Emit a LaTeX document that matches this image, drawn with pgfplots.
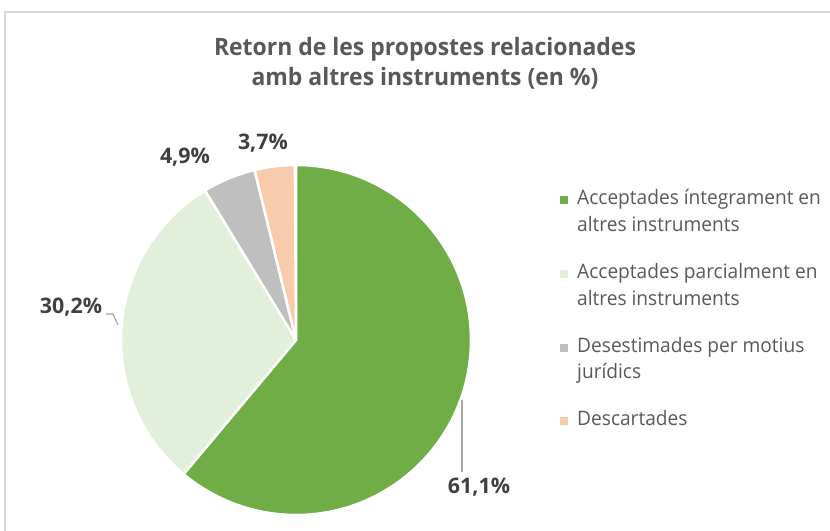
\documentclass[border=0pt]{standalone}
\usepackage{pgfplots}
\pgfplotsset{compat=1.18}
\usepackage{pgfplotstable}
\usepackage{fontspec}
\setmainfont{Open Sans}[FakeStretch=0.96]
\newfontfamily\titlefont{Open Sans}[FakeStretch=0.96]
\newfontfamily\labfont{Open Sans}
\definecolor{cA}{HTML}{70AD47}
\definecolor{cB}{HTML}{E2EFDA}
\definecolor{cC}{HTML}{BFBFBF}
\definecolor{cD}{HTML}{F8CBAD}
\definecolor{ttl}{HTML}{595959}
\definecolor{lab}{HTML}{404040}
\definecolor{leg}{HTML}{595959}
\definecolor{lead}{HTML}{A6A6A6}
\definecolor{frame}{HTML}{D9D9D9}

\pgfplotstableread{
val
61.1
30.2
4.9
3.7
}\piedata
\pgfplotstablegetelem{0}{val}\of\piedata \pgfmathsetmacro\vA{\pgfplotsretval}
\pgfplotstablegetelem{1}{val}\of\piedata \pgfmathsetmacro\vB{\pgfplotsretval}
\pgfplotstablegetelem{2}{val}\of\piedata \pgfmathsetmacro\vC{\pgfplotsretval}
\pgfplotstablegetelem{3}{val}\of\piedata \pgfmathsetmacro\vD{\pgfplotsretval}
\pgfmathsetmacro\eA{90-3.6*\vA}
\pgfmathsetmacro\eB{\eA-3.6*\vB}
\pgfmathsetmacro\eC{\eB-3.6*\vC}
\pgfmathsetmacro\eD{\eC-3.6*\vD}

\begin{document}
\begin{tikzpicture}
\path[use as bounding box] (0,0) rectangle (830bp,531bp);
\begin{axis}[
  at={(0,0)}, anchor=origin,
  x=1bp, y=1bp,
  xmin=0, xmax=830, ymin=0, ymax=531,
  hide axis, clip=false,
]
% frame (cropped at right and bottom)
\draw[frame, line width=1.3bp] (axis cs:5,-5) -- (axis cs:5,519) -- (axis cs:840,519);
% title
\node[anchor=base, text=ttl, font=\titlefont\bfseries\fontsize{24}{28}\selectfont] at (axis cs:425,475.3) {Retorn de les propostes relacionades};
\node[anchor=base, text=ttl, font=\titlefont\bfseries\fontsize{24}{28}\selectfont] at (axis cs:425,445) {amb altres instruments (en \%)};
% pie
\fill[cA, draw=white, line width=2.5bp, line join=round] (axis cs:296,191) -- ++(90:175bp) arc[start angle=90, end angle=\eA, radius=175bp] -- cycle;
\fill[cB, draw=white, line width=2.5bp, line join=round] (axis cs:296,191) -- ++(\eA:175bp) arc[start angle=\eA, end angle=\eB, radius=175bp] -- cycle;
\fill[cC, draw=white, line width=2.5bp, line join=round] (axis cs:296,191) -- ++(\eB:175bp) arc[start angle=\eB, end angle=\eC, radius=175bp] -- cycle;
\fill[cD, draw=white, line width=2.5bp, line join=round] (axis cs:296,191) -- ++(\eC:175bp) arc[start angle=\eC, end angle=\eD, radius=175bp] -- cycle;
% leader lines
\draw[lead, line width=1.2bp] (axis cs:462,131) -- (axis cs:462,59);
\draw[lead, line width=1.2bp] (axis cs:106,217) -- (axis cs:113,217) -- (axis cs:118,206);
% data labels
\tikzset{labt/.style={text=lab, inner sep=0pt, font=\labfont\bfseries\fontsize{21.5}{24}\selectfont}}
\node[labt] at (axis cs:479,44) {61,1\%};
\node[labt] at (axis cs:71,224) {30,2\%};
\node[labt] at (axis cs:185,374) {4,9\%};
\node[labt] at (axis cs:263,388) {3,7\%};
% legend
\fill[cA] (axis cs:560,327) rectangle (axis cs:568,335);
\fill[cB] (axis cs:560,253) rectangle (axis cs:568,261);
\fill[cC] (axis cs:560,179) rectangle (axis cs:568,187);
\fill[cD] (axis cs:560,106) rectangle (axis cs:568,114);
\tikzset{legt/.style={anchor=base west, inner sep=0pt, text=leg, font=\fontsize{20}{24}\selectfont}}
\node[legt] at (axis cs:577,327) {Acceptades íntegrament en};
\node[legt] at (axis cs:577,300) {altres instruments};
\node[legt] at (axis cs:577,253) {Acceptades parcialment en};
\node[legt] at (axis cs:577,226) {altres instruments};
\node[legt] at (axis cs:577,179) {Desestimades per motius};
\node[legt] at (axis cs:577,153) {jurídics};
\node[legt] at (axis cs:577,106) {Descartades};
\end{axis}
\end{tikzpicture}
\end{document}
